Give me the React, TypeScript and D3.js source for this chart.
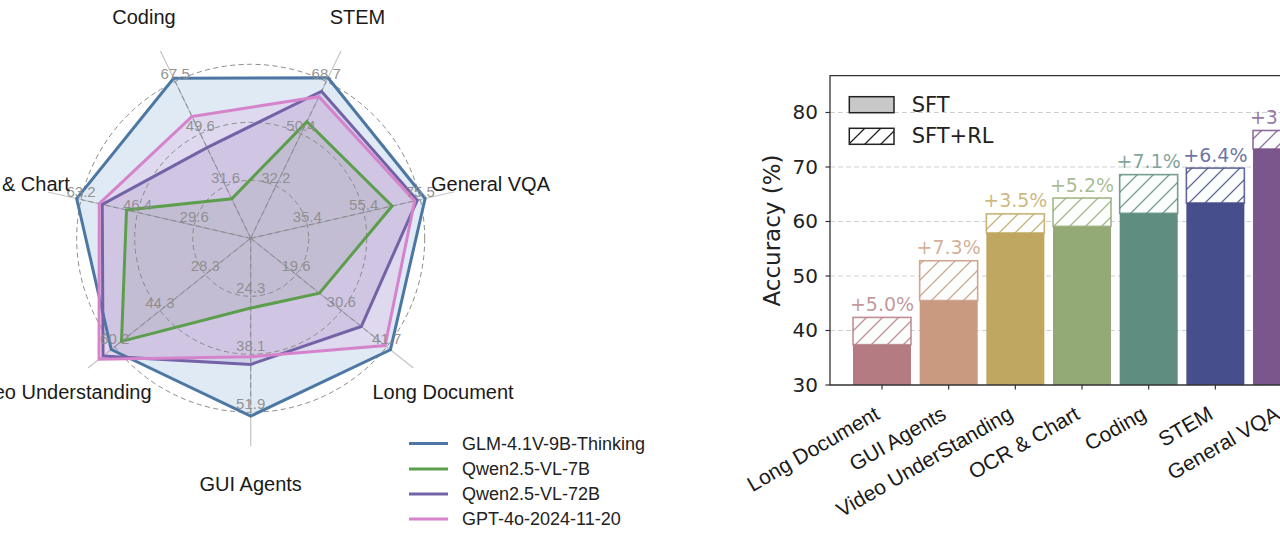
import React from "react";
import * as d3 from "d3";

// ---------------- Radar data ----------------
const radarAxes = ["Coding", "STEM", "General VQA", "Long Document", "GUI Agents", "Video Understanding", "OCR & Chart"];
const ringLabels: number[][] = [
  [31.6, 49.6, 67.5],
  [32.2, 50.4, 68.7],
  [35.4, 55.4, 75.5],
  [19.6, 30.6, 41.7],
  [24.3, 38.1, 51.9],
  [28.3, 44.3, 60.2],
  [29.6, 46.4, 63.2],
];
const modelNames = ["GLM-4.1V-9B-Thinking", "Qwen2.5-VL-7B", "Qwen2.5-VL-72B", "GPT-4o-2024-11-20"];
const glmValues = [68.6, 70.0, 77.2, 42.6, 52.8, 61.4, 64.5];
const qwen7Values = [27.2, 54.7, 65.5, 25.3, 27.1, 57.8, 49.7];
const qwen72Values = [44.8, 65.3, 74.4, 35.5, 40.5, 64.3, 56.9];
const gpt4oValues = [55.5, 63.4, 73.5, 41.3, 38.7, 65.7, 57.8];
const modelColors = ["#4d77a3", "#5d9e4c", "#7462a6", "#d584cb"];
const modelFills = ["#6ea0d2", "#6a9e5a", "#7a66b0", "#d98ad0"];
const fillOpacities = [0.22, 0.16, 0.17, 0.17];

// ---------------- Bar data ----------------
const barCategories = ["Long Document", "GUI Agents", "Video UnderStanding", "OCR & Chart", "Coding", "STEM", "General VQA"];
const sftValues = [37.4, 45.5, 57.9, 59.1, 61.5, 63.4, 73.3];
const sftRlValues = [42.4, 52.8, 61.4, 64.3, 68.6, 69.8, 76.7];
const barColors = ["#b47c82", "#c99a80", "#c0a761", "#93aa76", "#5f8d80", "#464f8b", "#7b568d"];
const yTicks = [30, 40, 50, 60, 70, 80];

const SANS = "'Liberation Sans', Arial, Helvetica, sans-serif";
const DEJAVU = "'DejaVu Sans', sans-serif";

function Radar() {
  const cx = 250.7;
  const cy = 238.3;
  const R = 174;
  const n = radarAxes.length;
  const step = (2 * Math.PI) / n;
  const angle = (i: number) => -step / 2 + i * step;
  const scales = ringLabels.map((rl) => d3.scaleLinear().domain([rl[0], rl[2]]).range([R / 3, R]));
  const series = [glmValues, qwen7Values, qwen72Values, gpt4oValues];
  const line = d3
    .lineRadial<number>()
    .angle((_d, i) => angle(i))
    .radius((d, i) => scales[i](d))
    .curve(d3.curveLinearClosed);
  const rings = [R / 3, (2 * R) / 3, R];

  return (
    <g transform={`translate(${cx},${cy})`}>
      {radarAxes.map((_a, i) => {
        const [x, y] = d3.pointRadial(angle(i), 208);
        return <line key={"sp" + i} x1={0} y1={0} x2={x} y2={y} stroke="#c4c4c4" strokeWidth={1.2} />;
      })}
      {series.map((s, k) => (
        <path key={"f" + k} d={line(s) || ""} fill={modelFills[k]} fillOpacity={fillOpacities[k]} stroke="none" />
      ))}
      {rings.map((r, k) => (
        <circle key={"r" + k} r={r} fill="none" stroke="#8a8a8a" strokeWidth={1} strokeDasharray="5,3.5" />
      ))}
      {radarAxes.map((_a, i) => {
        const [x, y] = d3.pointRadial(angle(i), R);
        return <line key={"ds" + i} x1={0} y1={0} x2={x} y2={y} stroke="#8a8a8a" strokeWidth={1} strokeDasharray="5,3.5" />;
      })}
      {series.map((s, k) => (
        <path key={"l" + k} d={line(s) || ""} fill="none" stroke={modelColors[k]} strokeWidth={3} strokeLinejoin="miter" />
      ))}
      {radarAxes.map((_a, i) =>
        ringLabels[i].map((v, k) => {
          const [x, y] = d3.pointRadial(angle(i), scales[i](v));
          return (
            <text key={"rl" + i + k} x={x} y={y - 3} textAnchor="middle" fontFamily={SANS} fontSize={15} fill="#8c8c8c" fillOpacity={0.95}>
              {v.toFixed(1)}
            </text>
          );
        })
      )}
      {radarAxes.map((a, i) => {
        const [x, y] = d3.pointRadial(angle(i), 246);
        return (
          <text key={"al" + i} x={x} y={y} textAnchor="middle" dominantBaseline="central" fontFamily={SANS} fontSize={20} fill="#1a1a1a">
            {a}
          </text>
        );
      })}
    </g>
  );
}

function RadarLegend() {
  const ys = [443.5, 469, 494, 519];
  return (
    <g>
      {modelNames.map((m, k) => (
        <g key={m}>
          <line x1={409} x2={448} y1={ys[k]} y2={ys[k]} stroke={modelColors[k]} strokeWidth={3} />
          <text x={462} y={ys[k]} dominantBaseline="central" fontFamily={SANS} fontSize={18} fill="#222">
            {m}
          </text>
        </g>
      ))}
    </g>
  );
}

function Bars() {
  const left = 830;
  const top = 75.7;
  const bottom = 385;
  const x = d3.scaleLinear().domain([-0.78, 6.78]).range([left, left + 7.56 * 66.67]);
  const y = d3.scaleLinear().domain([30, 86.75]).range([bottom, top]);
  const bw = x(0.435) - x(-0.435);
  const right = x(6.78);

  return (
    <g>
      <defs>
        {barColors.map((c, i) => (
          <pattern key={"p" + i} id={"hatch" + i} patternUnits="userSpaceOnUse" width={16} height={16}>
            <rect width={16} height={16} fill="#fbfcfc" />
            <path d="M0,16 L16,0 M-4,4 L4,-4 M12,20 L20,12" stroke={c} strokeWidth={1.3} strokeOpacity={0.85} />
          </pattern>
        ))}
        <pattern id="hatchLegend" patternUnits="userSpaceOnUse" width={16} height={16} x={849} y={128}>
          <rect width={16} height={16} fill="#fff" />
          <path d="M0,16 L16,0 M-4,4 L4,-4 M12,20 L20,12" stroke="#222" strokeWidth={1.3} />
        </pattern>
      </defs>
      {yTicks.slice(1).map((t) => (
        <line key={"g" + t} x1={left} x2={right} y1={y(t)} y2={y(t)} stroke="#d0d0d0" strokeWidth={1} strokeDasharray="5,3" />
      ))}
      {barCategories.map((c, i) => {
        const x0 = x(i) - bw / 2;
        return (
          <g key={c}>
            <rect x={x0} y={y(sftValues[i])} width={bw} height={bottom - y(sftValues[i])} fill={barColors[i]} />
            <rect
              x={x0}
              y={y(sftRlValues[i])}
              width={bw}
              height={y(sftValues[i]) - y(sftRlValues[i])}
              fill={`url(#hatch${i})`}
              stroke={barColors[i]}
              strokeOpacity={0.85}
              strokeWidth={1.6}
            />
            <text
              x={x(i)}
              y={y(sftRlValues[i]) - 6.5}
              textAnchor="middle"
              fontFamily={DEJAVU}
              fontSize={19}
              fill={barColors[i]}
              fillOpacity={0.8}
            >
              {"+" + (sftRlValues[i] - sftValues[i]).toFixed(1) + "%"}
            </text>
          </g>
        );
      })}
      <path d={`M${right},${top} L${left},${top} L${left},${bottom} L${right},${bottom}`} fill="none" stroke="#333" strokeWidth={1.3} />
      {yTicks.map((t) => (
        <g key={"yt" + t}>
          <line x1={left - 4.5} x2={left} y1={y(t)} y2={y(t)} stroke="#333" strokeWidth={1.2} />
          <text x={818} y={y(t)} textAnchor="end" dominantBaseline="central" fontFamily={DEJAVU} fontSize={20} fill="#222">
            {t}
          </text>
        </g>
      ))}
      {barCategories.map((c, i) => (
        <g key={"xt" + i}>
          <line x1={x(i)} x2={x(i)} y1={bottom} y2={bottom + 4.5} stroke="#333" strokeWidth={1.2} />
          <text
            transform={`translate(${x(i) - 1},${418}) rotate(-30)`}
            textAnchor="end"
            fontFamily={SANS}
            fontSize={21}
            fill="#1a1a1a"
          >
            {c}
          </text>
        </g>
      ))}
      <text
        transform={`translate(771.7,230.5) rotate(-90)`}
        textAnchor="middle"
        dominantBaseline="central"
        fontFamily={DEJAVU}
        fontSize={23}
        fill="#222"
      >
        Accuracy (%)
      </text>
      <rect x={849.3} y={96.7} width={44.7} height={16} fill="#c8c8c8" stroke="#222" strokeWidth={1.5} />
      <text x={911.7} y={104.7} dominantBaseline="central" fontFamily={DEJAVU} fontSize={21} fill="#222">
        SFT
      </text>
      <rect x={849.3} y={128.3} width={44.7} height={16} fill="url(#hatchLegend)" stroke="#222" strokeWidth={1.5} />
      <text x={911.7} y={136.3} dominantBaseline="central" fontFamily={DEJAVU} fontSize={21} fill="#222">
        SFT+RL
      </text>
    </g>
  );
}

export default function App() {
  return (
    <div style={{ position: "absolute", left: 0, top: 0 }}>
      <svg width={1280} height={545} style={{ display: "block", background: "#fff" }}>
        <rect width={1280} height={545} fill="#fff" />
        <Radar />
        <RadarLegend />
        <Bars />
      </svg>
    </div>
  );
}
